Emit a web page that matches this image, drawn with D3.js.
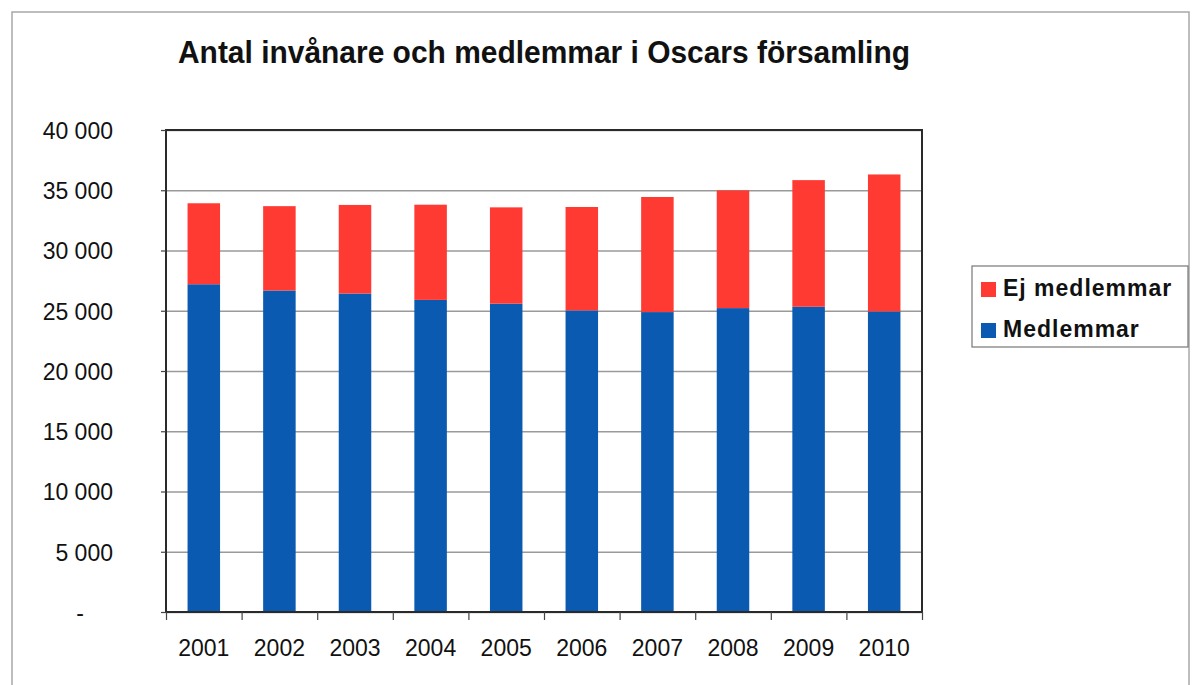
<!DOCTYPE html>
<html>
<head>
<meta charset="utf-8">
<script src="https://cdn.jsdelivr.net/npm/d3@7"></script>
<style>
  body { margin: 0; background: #fff; }
  svg { display: block; }
  text { font-family: "Liberation Sans", Arial, sans-serif; fill: #111; }
  .grid line { stroke: #9a9a9a; stroke-width: 1.5; }
  .grid .domain { display: none; }
  .yAxis .domain, .xTicks .domain { display: none; }
  .yAxis line, .xTicks line { stroke: #444; stroke-width: 1.2; }
</style>
</head>
<body>
<div id="chart"></div>
<script>
// data
const years = ["2001", "2002", "2003", "2004", "2005", "2006", "2007", "2008", "2009", "2010"];
const medlemmar = [27200, 26680, 26430, 25900, 25590, 25030, 24890, 25220, 25330, 24940];
const ejMedlemmar = [6720, 7000, 7350, 7900, 7990, 8580, 9550, 9770, 10510, 11370];
const yTicks = [0, 5000, 10000, 15000, 20000, 25000, 30000, 35000, 40000];
const seriesNames = ["Medlemmar", "Ej medlemmar"];
const colors = {"Medlemmar": "#0b5ab2", "Ej medlemmar": "#ff3a33"};

const width = 1192, height = 685;
const margin = {top: 130, right: 270, bottom: 73, left: 166};
const plotW = width - margin.left - margin.right;
const plotH = height - margin.top - margin.bottom;

const svg = d3.select("#chart").append("svg")
    .attr("width", width)
    .attr("height", height);

// outer chart frame
svg.append("rect")
    .attr("x", 12).attr("y", 12)
    .attr("width", 1177).attr("height", 690)
    .attr("fill", "none")
    .attr("stroke", "#a8a8a8")
    .attr("stroke-width", 1.5);

// title
svg.append("text")
    .text("Antal invånare och medlemmar i Oscars församling")
    .attr("x", 178)
    .attr("y", 63)
    .attr("textLength", 732)
    .attr("lengthAdjust", "spacingAndGlyphs")
    .style("font-size", "32px")
    .style("font-weight", "bold");

const g = svg.append("g")
    .attr("transform", "translate(" + margin.left + "," + margin.top + ")");

const x = d3.scaleBand()
    .domain(years)
    .range([0, plotW])
    .paddingInner(0.57)
    .paddingOuter(0.285);

const y = d3.scaleLinear()
    .domain([0, 40000])
    .range([plotH, 0]);

// gridlines
g.append("g")
    .attr("class", "grid")
    .call(d3.axisLeft(y).tickValues(yTicks).tickSize(-plotW).tickFormat(""));

// stacked bars
const rows = years.map((yr, i) => ({year: yr, "Medlemmar": medlemmar[i], "Ej medlemmar": ejMedlemmar[i]}));
const stacked = d3.stack().keys(seriesNames)(rows);

g.selectAll("g.series")
    .data(stacked)
    .enter().append("g")
    .attr("class", "series")
    .attr("fill", d => colors[d.key])
    .selectAll("rect")
    .data(d => d)
    .enter().append("rect")
    .attr("x", d => x(d.data.year))
    .attr("width", x.bandwidth())
    .attr("y", d => y(d[1]))
    .attr("height", d => y(d[0]) - y(d[1]));

// plot border
g.append("rect")
    .attr("width", plotW)
    .attr("height", plotH)
    .attr("fill", "none")
    .attr("stroke", "#2a2a2a")
    .attr("stroke-width", 2);

// y axis
const fmt = d => d === 0 ? "-" : d3.format(",")(d).replace(/,/g, " ");
const yAxis = g.append("g")
    .attr("class", "yAxis")
    .call(d3.axisLeft(y).tickValues(yTicks).tickSize(5).tickPadding(48).tickFormat(fmt));
yAxis.selectAll("text")
    .style("font-size", "23px")
    .attr("dy", "0.36em");
yAxis.selectAll(".tick")
    .filter(d => d === 0)
    .select("text")
    .attr("text-anchor", "middle")
    .attr("x", -86);

// x tick marks at category boundaries
const xEdge = d3.scaleLinear().domain([0, years.length]).range([0, plotW]);
g.append("g")
    .attr("class", "xTicks")
    .attr("transform", "translate(0," + plotH + ")")
    .call(d3.axisBottom(xEdge).tickValues(d3.range(years.length + 1)).tickSize(8).tickFormat(""));

// x labels
const xAxis = g.append("g")
    .attr("transform", "translate(0," + plotH + ")")
    .call(d3.axisBottom(x).tickSize(0).tickPadding(28));
xAxis.select(".domain").remove();
xAxis.selectAll("text").style("font-size", "23px");

// legend
const legend = svg.append("g").attr("transform", "translate(972,266)");
legend.append("rect")
    .attr("width", 216).attr("height", 81)
    .attr("fill", "#fff")
    .attr("stroke", "#777")
    .attr("stroke-width", 1.2);
const legendItems = ["Ej medlemmar", "Medlemmar"];
const li = legend.selectAll("g.item")
    .data(legendItems)
    .enter().append("g")
    .attr("class", "item")
    .attr("transform", (d, i) => "translate(9," + (16 + i * 41) + ")");
li.append("rect")
    .attr("width", 15).attr("height", 15)
    .attr("fill", d => colors[d]);
li.append("text")
    .text(d => d)
    .attr("x", 22)
    .attr("y", 14)
    .style("font-size", "23px")
    .style("font-weight", "bold")
    .style("letter-spacing", "1px");
</script>
</body>
</html>
